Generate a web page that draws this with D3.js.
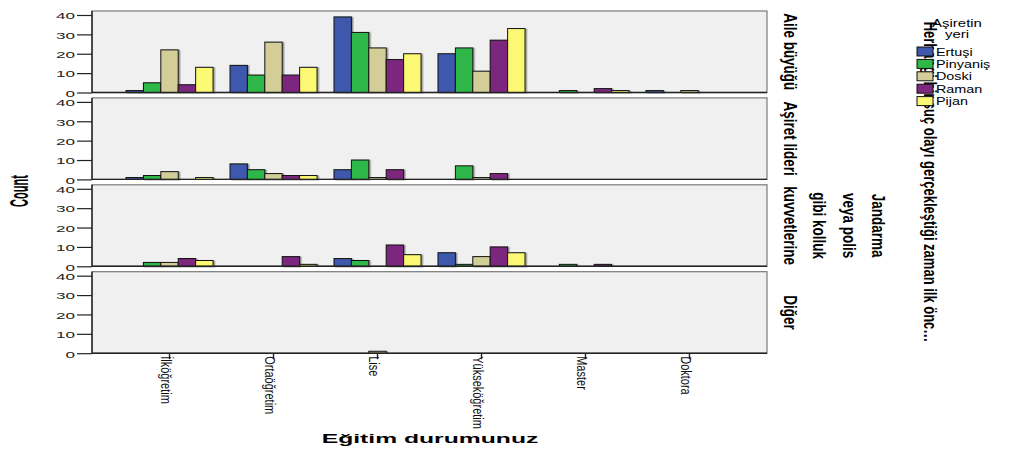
<!DOCTYPE html>
<html>
<head>
<meta charset="utf-8">
<script src="https://cdn.jsdelivr.net/npm/d3@7"></script>
<style>
  body { margin: 0; background: #ffffff; }
  text { font-family: "Liberation Sans", Arial, sans-serif; fill: #000; }
</style>
</head>
<body>
<svg id="chart"></svg>
<script>
// education level (x axis groups)
let categories = ['İlköğretim', 'Ortaöğretim', 'Lise', 'Yükseköğretim', 'Master', 'Doktora'];

// tribes (legend series)
let tribes = ['Ertuşi', 'Pinyaniş', 'Doski', 'Raman', 'Pijan'];
let tribeColors = ['#3e58ac', '#2eb848', '#d3ce97', '#7c287d', '#fbf873'];

// row panels, each label split into lines
let panelLabels = [['Aile büyüğü'], ['Aşiret lideri'], ['Jandarma', 'veya polis', 'gibi kolluk', 'kuvvetlerine'], ['Diğer']];

let yTicks = [0, 10, 20, 30, 40];

// counts per education level, one value per tribe
let aileBuyugu = [
  [1, 5, 22, 4, 13],
  [14, 9, 26, 9, 13],
  [39, 31, 23, 17, 20],
  [20, 23, 11, 27, 33],
  [0, 1, 0, 2, 1],
  [1, 0, 1, 0, 0]
];
let asiretLideri = [
  [1, 2, 4, 0, 1],
  [8, 5, 3, 2, 2],
  [5, 10, 1, 5, 0],
  [0, 7, 1, 3, 0],
  [0, 0, 0, 0, 0],
  [0, 0, 0, 0, 0]
];
let jandarma = [
  [0, 2, 2, 4, 3],
  [0, 0, 0, 5, 1],
  [4, 3, 0, 11, 6],
  [7, 1, 5, 10, 7],
  [0, 1, 0, 1, 0],
  [0, 0, 0, 0, 0]
];
let diger = [
  [0, 0, 0, 0, 0],
  [0, 0, 0, 0, 0],
  [0, 0, 1, 0, 0],
  [0, 0, 0, 0, 0],
  [0, 0, 0, 0, 0],
  [0, 0, 0, 0, 0]
];
let panelValues = [aileBuyugu, asiretLideri, jandarma, diger];

let xTitle = 'Eğitim durumunuz';
let yTitle = 'Count';
let legendTitle = ['Aşiretin', 'yeri'];
let rowTitle = 'Herhangi bir suç olayı gerçekleştiği zaman ilk önc…';

// configuration of svg/plot area
let config = { 'svg': {}, 'plot': {}, 'panel': {} };
config.svg.width = 1020;
config.svg.height = 450;

config.plot.x = 92;
config.plot.y = 11;
config.plot.width = 767 - 92;

config.panel.height = 81.5;
config.panel.gap = 5.4;

let svg = d3.select('svg#chart');
svg.attr('width', config.svg.width);
svg.attr('height', config.svg.height);

// soft shadow like the original bars
let defs = svg.append('defs');
let filter = defs.append('filter').attr('id', 'shadow')
  .attr('x', '-20%').attr('y', '-20%').attr('width', '150%').attr('height', '150%');
filter.append('feDropShadow')
  .attr('dx', 1.5).attr('dy', 0.5).attr('stdDeviation', 0.6)
  .attr('flood-color', '#555').attr('flood-opacity', 0.6);

// scales
let scale = {};
scale.x = d3.scaleBand()
  .domain(categories)
  .range([0, config.plot.width])
  .paddingInner(0.163)
  .paddingOuter(0.327);

scale.series = d3.scaleBand()
  .domain(tribes)
  .range([0, scale.x.bandwidth()]);

scale.y = d3.scaleLinear()
  .domain([0, 42.06])
  .range([config.panel.height, 0]);

scale.color = d3.scaleOrdinal().domain(tribes).range(tribeColors);

// draw one panel per answer
panelValues.forEach(function(values, p) {
  let top = config.plot.y + p * (config.panel.height + config.panel.gap);

  let g = svg.append('g')
    .attr('class', 'panel')
    .attr('transform', translate(config.plot.x, top));

  g.append('rect')
    .attr('x', 0).attr('y', 0)
    .attr('width', config.plot.width)
    .attr('height', config.panel.height)
    .style('fill', '#f0f0f0')
    .style('stroke', '#7a7a7a')
    .style('stroke-width', 1.2);

  // y axis
  let axisY = d3.axisLeft(scale.y)
    .tickValues(yTicks)
    .tickSize(15)
    .tickPadding(2)
    .tickFormat(d3.format('d'));
  let gy = g.append('g').attr('class', 'axis').call(axisY);
  gy.select('.domain').remove();
  gy.selectAll('.tick line').style('stroke', '#222').style('stroke-width', 1.2);
  gy.selectAll('.tick text')
    .attr('x', null).attr('dy', null)
    .attr('transform', 'translate(-17,3.8) scale(1.8,1)')
    .style('font-size', '9.5px')
    .style('fill', '#222')
    .style('text-anchor', 'end');

  // groups of bars
  let groups = g.selectAll('g.group')
    .data(values)
    .enter()
    .append('g')
    .attr('class', 'group')
    .attr('transform', (d, i) => translate(scale.x(categories[i]), 0));

  groups.selectAll('rect')
    .data(d => d.map((v, i) => ({ tribe: tribes[i], value: v })).filter(e => e.value > 0))
    .enter()
    .append('rect')
    .attr('x', d => scale.series(d.tribe))
    .attr('y', d => scale.y(d.value))
    .attr('width', scale.series.bandwidth())
    .attr('height', d => scale.y(0) - scale.y(d.value))
    .style('fill', d => scale.color(d.tribe))
    .style('stroke', '#111')
    .style('stroke-width', 1)
    .attr('filter', 'url(#shadow)');

  // axis lines (left and bottom)
  g.append('line')
    .attr('x1', 0).attr('x2', 0)
    .attr('y1', 0).attr('y2', config.panel.height)
    .style('stroke', '#222').style('stroke-width', 1.4);
  g.append('line')
    .attr('x1', 0).attr('x2', config.plot.width)
    .attr('y1', config.panel.height).attr('y2', config.panel.height)
    .style('stroke', '#222').style('stroke-width', 1.4);

  // panel label on the right
  let lines = panelLabels[p];
  let cy = top + config.panel.height / 2;
  lines.forEach(function(line, k) {
    let cx = 790 + (lines.length - 1 - k) * 29.5;
    vtext(svg, cx, cy, line, 90, 1.3)
      .style('font-size', '13.5px')
      .style('font-weight', 'bold');
  });
});

// x axis below the last panel
let bottom = config.plot.y + 3 * (config.panel.height + config.panel.gap) + config.panel.height;
let axisX = d3.axisBottom(scale.x).tickSize(6).tickFormat('');
let gx = svg.append('g')
  .attr('class', 'axis')
  .attr('transform', translate(config.plot.x, bottom))
  .call(axisX);
gx.select('.domain').remove();
gx.selectAll('.tick line').style('stroke', '#222').style('stroke-width', 1.4);

categories.forEach(function(c) {
  let cx = config.plot.x + scale.x(c) + scale.x.bandwidth() / 2;
  let g = svg.append('g')
    .attr('transform', translate(cx + 1, bottom + 3) + ' scale(1.3,1) rotate(90)');
  g.append('text')
    .attr('x', 0).attr('y', 7.5)
    .style('font-size', '11px')
    .style('fill', '#111')
    .style('text-anchor', 'start')
    .text(c);
});

// axis titles
svg.append('text')
  .attr('transform', translate(430, 443) + ' scale(1.9,1)')
  .style('text-anchor', 'middle')
  .style('font-size', '13px')
  .style('font-weight', 'bold')
  .text(xTitle);

vtext(svg, 19, 191, yTitle, -90, 2.3)
  .style('font-size', '11px')
  .style('font-weight', 'bold');

// long row title on the right
vtext(svg, 931, 182, rowTitle, 90, 1.45)
  .style('font-size', '13px')
  .style('font-weight', 'bold');

// legend
let legend = svg.append('g').attr('class', 'legend');
legendTitle.forEach(function(t, i) {
  legend.append('text')
    .attr('transform', translate(957, 27 + i * 11) + ' scale(1.3,1)')
    .style('text-anchor', 'middle')
    .style('font-size', '11.5px')
    .text(t);
});

let items = legend.selectAll('g.item')
  .data(tribes)
  .enter()
  .append('g')
  .attr('class', 'item')
  .attr('transform', (d, i) => translate(917, 47 + i * 12.4));

items.append('rect')
  .attr('width', 16).attr('height', 9)
  .style('fill', d => scale.color(d))
  .style('stroke', '#111');

items.append('text')
  .attr('transform', translate(19, 8.5) + ' scale(1.25,1)')
  .style('font-size', '11.5px')
  .text(d => d);

// rotated text: centred at (x, y), glyph height stretched by sx
function vtext(parent, x, y, str, angle, sx) {
  let g = parent.append('g')
    .attr('transform', translate(x, y) + ' scale(' + sx + ',1) rotate(' + angle + ')');
  return g.append('text')
    .attr('dy', '0.35em')
    .style('text-anchor', 'middle')
    .text(str);
}

// helper method to make translating easier
function translate(x, y) {
  return 'translate(' + x + ',' + y + ')';
}
</script>
</body>
</html>
